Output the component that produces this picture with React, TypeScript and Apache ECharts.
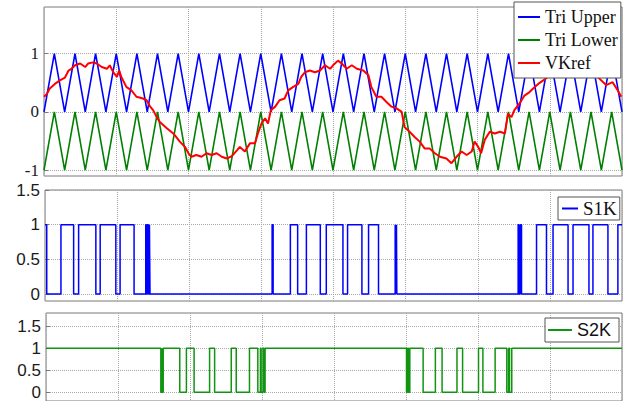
import React, { useEffect, useRef } from "react";
import * as echarts from "echarts";

// ---- Data ----
const triTimes = [
  0, 0.143, 0.286, 0.429, 0.571, 0.714, 0.857, 1, 1.143, 1.286, 1.429, 1.571, 1.714, 1.857,
  2, 2.143, 2.286, 2.429, 2.571, 2.714, 2.857, 3, 3.143, 3.286, 3.429, 3.571, 3.714, 3.857,
  4, 4.143, 4.286, 4.429, 4.571, 4.714, 4.857, 5, 5.143, 5.286, 5.429, 5.571, 5.714, 5.857,
  6, 6.143, 6.286, 6.429, 6.571, 6.714, 6.857, 7, 7.143, 7.286, 7.429, 7.571, 7.714, 7.857, 8,
];
const triUpper = [
  0, 1, 0, 1, 0, 1, 0, 1, 0, 1, 0, 1, 0, 1,
  0, 1, 0, 1, 0, 1, 0, 1, 0, 1, 0, 1, 0, 1,
  0, 1, 0, 1, 0, 1, 0, 1, 0, 1, 0, 1, 0, 1,
  0, 1, 0, 1, 0, 1, 0, 1, 0, 1, 0, 1, 0, 1, 0,
];
const triLower = [
  -1, 0, -1, 0, -1, 0, -1, 0, -1, 0, -1, 0, -1, 0,
  -1, 0, -1, 0, -1, 0, -1, 0, -1, 0, -1, 0, -1, 0,
  -1, 0, -1, 0, -1, 0, -1, 0, -1, 0, -1, 0, -1, 0,
  -1, 0, -1, 0, -1, 0, -1, 0, -1, 0, -1, 0, -1, 0, -1,
];
const vkrefTimes = [
  0.0, 0.04, 0.08, 0.15, 0.22, 0.29, 0.34, 0.38, 0.43, 0.5,
  0.57, 0.61, 0.68, 0.73, 0.8, 0.87, 0.91, 0.96, 1.01, 1.04,
  1.07, 1.14, 1.21, 1.28, 1.37, 1.42, 1.47, 1.51, 1.56, 1.6,
  1.7, 1.79, 1.88, 1.95, 2.0, 2.04, 2.11, 2.18, 2.25, 2.32,
  2.39, 2.46, 2.53, 2.6, 2.67, 2.71, 2.78, 2.85, 2.92, 2.96,
  3.01, 3.06, 3.1, 3.14, 3.2, 3.26, 3.33, 3.38, 3.45, 3.52,
  3.56, 3.61, 3.68, 3.75, 3.82, 3.89, 3.96, 4.0, 4.07, 4.12,
  4.19, 4.26, 4.33, 4.42, 4.49, 4.53, 4.6, 4.67, 4.74, 4.81,
  4.88, 4.95, 4.99, 5.06, 5.13, 5.2, 5.27, 5.34, 5.41, 5.48,
  5.57, 5.64, 5.71, 5.78, 5.85, 5.92, 5.96, 6.01, 6.05, 6.1,
  6.17, 6.24, 6.31, 6.38, 6.42, 6.47, 6.51, 6.58, 6.65, 6.72,
  6.77, 6.84, 6.91, 7.0, 7.14, 7.28, 7.42, 7.56, 7.68, 7.78,
  7.87, 7.94, 7.99,
];
const vkrefValues = [
  0.26, 0.31, 0.4, 0.48, 0.54, 0.59, 0.71, 0.74, 0.8, 0.83,
  0.77, 0.83, 0.85, 0.83, 0.77, 0.74, 0.8, 0.68, 0.6, 0.71,
  0.6, 0.43, 0.37, 0.26, 0.23, 0.2, 0.09, 0.03, -0.09, -0.17,
  -0.28, -0.37, -0.51, -0.6, -0.71, -0.77, -0.74, -0.77, -0.71, -0.74,
  -0.71, -0.77, -0.8, -0.76, -0.66, -0.6, -0.68, -0.54, -0.54, -0.37,
  -0.2, -0.11, -0.2, 0.03, 0.09, 0.2, 0.23, 0.37, 0.43, 0.48,
  0.6, 0.68, 0.71, 0.68, 0.71, 0.8, 0.74, 0.8, 0.88, 0.83,
  0.74, 0.8, 0.74, 0.71, 0.63, 0.43, 0.26, 0.26, 0.17, 0.09,
  0.06, 0.0, -0.26, -0.34, -0.43, -0.51, -0.63, -0.63, -0.71, -0.77,
  -0.8, -0.88, -0.77, -0.68, -0.74, -0.68, -0.51, -0.6, -0.71, -0.48,
  -0.34, -0.37, -0.34, -0.37, -0.03, -0.09, 0.03, 0.14, 0.28, 0.34,
  0.4, 0.48, 0.54, 0.62, 0.7, 0.76, 0.78, 0.7, 0.58, 0.46,
  0.51, 0.37, 0.26,
];
const s1kStart = 1;
const s1kEdges = [
  0.024, 0.221, 0.397, 0.466, 0.705, 0.765, 0.982, 1.041, 1.235, 1.397, 1.407, 1.42, 1.434, 1.448, 1.456,
  3.149, 3.163, 3.402, 3.503, 3.624, 3.817, 3.9, 4.131, 4.195, 4.394, 4.486, 4.624, 4.855, 4.864, 4.873, 4.878,
  6.56, 6.57, 6.591, 6.607, 6.815, 6.953, 7.044, 7.252, 7.321, 7.542, 7.597, 7.805, 7.943,
];
const s1kLevels = [
  0, 1, 0, 1, 0, 1, 0, 1, 0, 1, 0, 1, 0, 1, 0,
  1, 0, 1, 0, 1, 0, 1, 0, 1, 0, 1, 0, 1, 0, 1, 0,
  1, 0, 1, 0, 1, 0, 1, 0, 1, 0, 1, 0, 1,
];
const s2kStart = 1;
const s2kEdges = [
  1.595, 1.609, 1.618, 1.628, 1.858, 1.95, 2.057, 2.272, 2.342, 2.573, 2.642, 2.826, 2.942, 2.978, 2.988, 3.015, 3.029, 3.043,
  5.007, 5.021, 5.035, 5.053, 5.238, 5.408, 5.501, 5.708, 5.786, 6.007, 6.068, 6.238, 6.4, 6.425, 6.438, 6.469,
];
const s2kLevels = [
  0, 1, 0, 1, 0, 1, 0, 1, 0, 1, 0, 1, 0, 1, 0, 1, 0, 1,
  0, 1, 0, 1, 0, 1, 0, 1, 0, 1, 0, 1, 0, 1, 0, 1,
];
const topTicks = [-1, 0, 1];
const pulseTicks = [0, 0.5, 1, 1.5];

function pairs(xs: number[], ys: number[]) {
  return xs.map((x, i) => [x, ys[i]]);
}
function steps(start: number, edges: number[], levels: number[], end: number) {
  const pts: number[][] = [[0, start]];
  let cur = start;
  edges.forEach((t, i) => {
    pts.push([t, cur]);
    cur = levels[i];
    pts.push([t, cur]);
  });
  pts.push([end, cur]);
  return pts;
}

const SERIF = "Liberation Serif";
const SANS = "Liberation Sans";
const FRAME = "#7a7a7a";
const GRIDC = "#a8a8a8";
const LEG_ICON = "rect";

function xAxis(gridIndex: number) {
  return {
    type: "value",
    gridIndex,
    min: 0,
    max: 8,
    interval: 1,
    axisLine: { show: false },
    axisTick: { show: false },
    axisLabel: { show: false },
    splitLine: { show: true, lineStyle: { color: GRIDC, type: "dotted", width: 1 } },
  };
}
function yAxis(gridIndex: number, min: number, max: number, ticks: number[], font: string, size: number) {
  return {
    type: "value",
    gridIndex,
    min,
    max,
    axisLine: { show: false },
    axisTick: { show: true, inside: true, length: 4, customValues: ticks, lineStyle: { color: FRAME } },
    axisLabel: { show: true, customValues: ticks, fontFamily: font, fontSize: size, color: "#1a1a1a", margin: 5 },
    splitLine: { show: true, lineStyle: { color: GRIDC, type: "dotted", width: 1 } },
  };
}

export default function App() {
  const ref = useRef<HTMLDivElement>(null);
  useEffect(() => {
    if (!ref.current) return;
    const chart = echarts.init(ref.current, undefined, { renderer: "svg" });
    const gridBase = { show: true, borderColor: FRAME, borderWidth: 1, backgroundColor: "#fff" };
    chart.setOption({
      animation: false,
      backgroundColor: "#fff",
      grid: [
        { ...gridBase, left: 44, top: 7, width: 578, height: 169 },
        { ...gridBase, left: 45, top: 190, width: 577, height: 111 },
        { ...gridBase, left: 46, top: 313, width: 576, height: 91 },
      ],
      xAxis: [xAxis(0), xAxis(1), xAxis(2)],
      yAxis: [
        yAxis(0, -1.1, 1.8, topTicks, SERIF, 17),
        yAxis(1, -0.1, 1.5, pulseTicks, SANS, 17),
        yAxis(2, -0.2, 1.8, pulseTicks, SANS, 17),
      ],
      legend: [
        {
          data: ["Tri Upper", "Tri Lower", "VKref"],
          orient: "vertical",
          left: 514,
          top: 2,
          icon: LEG_ICON,
          itemWidth: 22,
          itemHeight: 2,
          itemGap: 1,
          padding: [4, 3, 4, 4],
          backgroundColor: "#fff",
          borderColor: "#555",
          borderWidth: 1,
          textStyle: { fontFamily: SERIF, fontSize: 18, color: "#111", lineHeight: 22 },
        },
        {
          data: ["S1K"],
          left: 558,
          top: 197,
          icon: LEG_ICON,
          itemWidth: 16,
          itemHeight: 2,
          padding: [2, 3, 2, 4],
          backgroundColor: "#fff",
          borderColor: "#555",
          borderWidth: 1,
          textStyle: { fontFamily: SERIF, fontSize: 19, color: "#111", lineHeight: 18 },
        },
        {
          data: ["S2K"],
          left: 545,
          top: 318,
          icon: LEG_ICON,
          itemWidth: 24,
          itemHeight: 2,
          padding: [2, 8, 2, 3],
          backgroundColor: "#fff",
          borderColor: "#555",
          borderWidth: 1,
          textStyle: { fontFamily: SANS, fontSize: 18, color: "#111", lineHeight: 20 },
        },
      ],
      series: [
        {
          name: "Tri Upper",
          type: "line",
          xAxisIndex: 0,
          yAxisIndex: 0,
          data: pairs(triTimes, triUpper),
          symbol: "none",
          lineStyle: { color: "#0000ff", width: 1.6 },
          itemStyle: { color: "#0000ff" },
        },
        {
          name: "Tri Lower",
          type: "line",
          xAxisIndex: 0,
          yAxisIndex: 0,
          data: pairs(triTimes, triLower),
          symbol: "none",
          lineStyle: { color: "#008000", width: 1.6 },
          itemStyle: { color: "#008000" },
        },
        {
          name: "VKref",
          type: "line",
          xAxisIndex: 0,
          yAxisIndex: 0,
          data: pairs(vkrefTimes, vkrefValues),
          symbol: "none",
          lineStyle: { color: "#ff0000", width: 2 },
          itemStyle: { color: "#ff0000" },
        },
        {
          name: "S1K",
          type: "line",
          xAxisIndex: 1,
          yAxisIndex: 1,
          data: steps(s1kStart, s1kEdges, s1kLevels, 8),
          symbol: "none",
          lineStyle: { color: "#0000ff", width: 1.5 },
          itemStyle: { color: "#0000ff" },
        },
        {
          name: "S2K",
          type: "line",
          xAxisIndex: 2,
          yAxisIndex: 2,
          data: steps(s2kStart, s2kEdges, s2kLevels, 8),
          symbol: "none",
          lineStyle: { color: "#119411", width: 1.5 },
          itemStyle: { color: "#119411" },
        },
      ],
    });
    return () => chart.dispose();
  }, []);
  return (
    <div
      ref={ref}
      style={{ position: "fixed", left: 0, top: 0, width: 626, height: 401, background: "#fff" }}
    />
  );
}
